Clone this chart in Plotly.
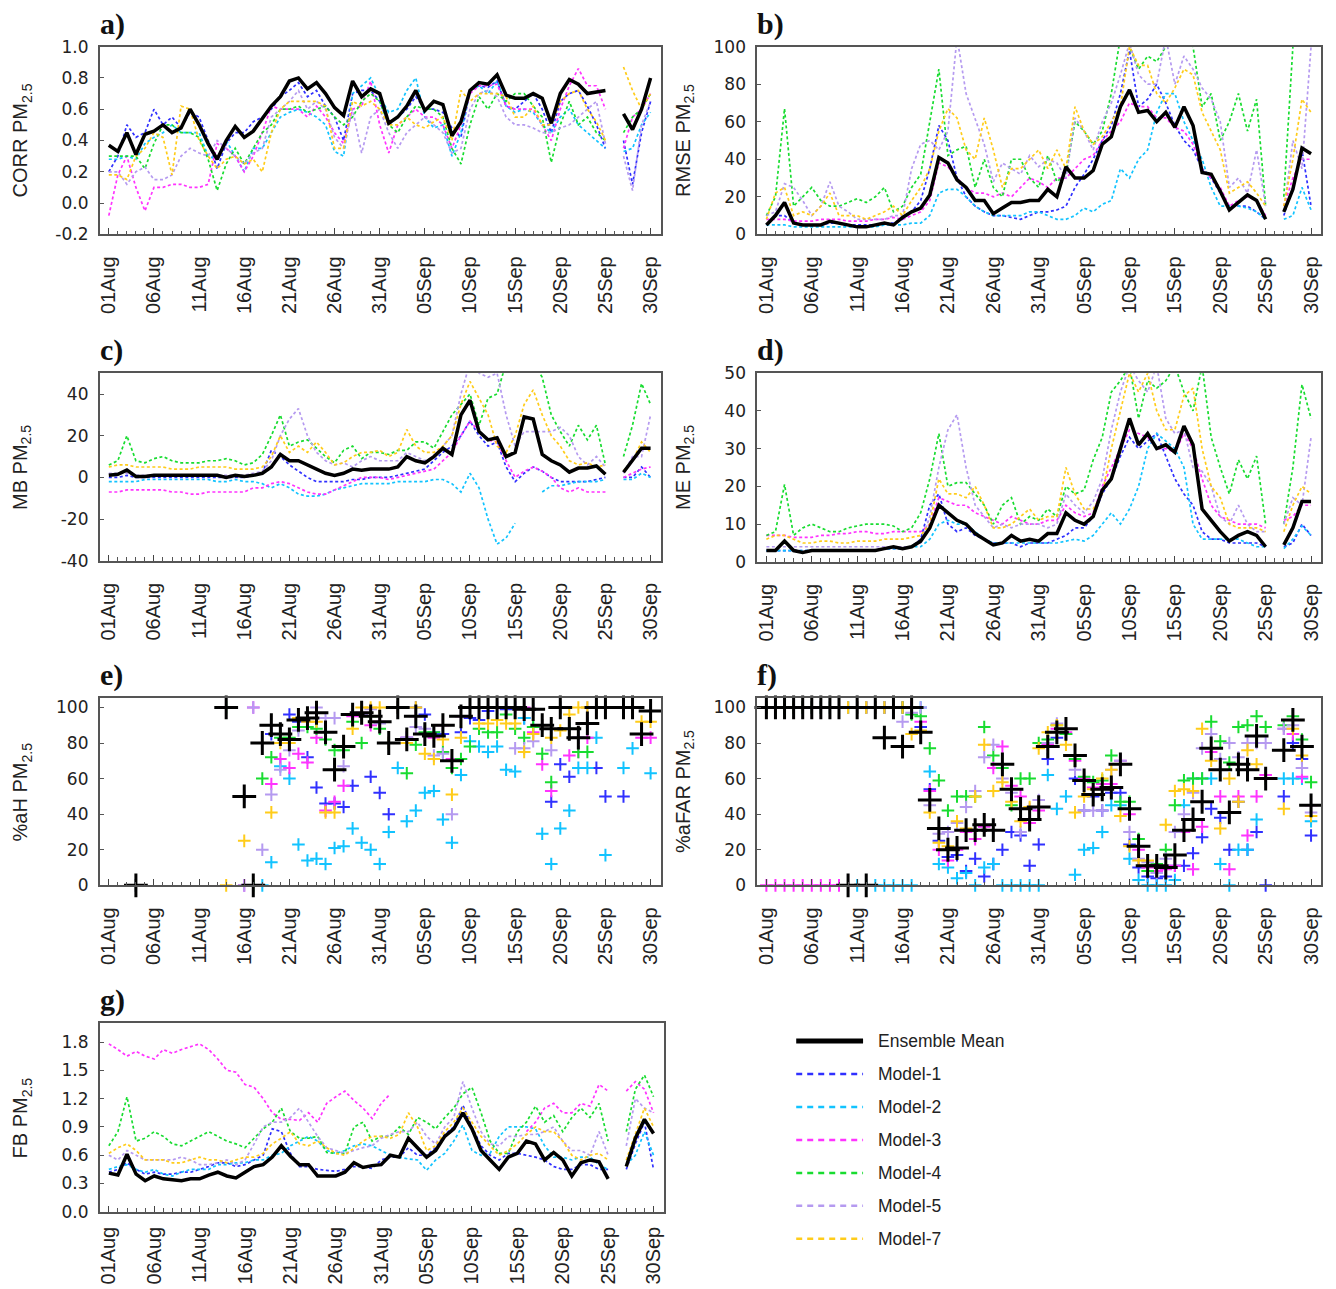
import plotly.graph_objects as go

N = None
W, H = 1336, 1289

DAYS = list(range(61))
TICK_VALS = list(range(0, 61, 5))
TICK_TEXT = ["01Aug", "06Aug", "11Aug", "16Aug", "21Aug", "26Aug", "31Aug",
             "05Sep", "10Sep", "15Sep", "20Sep", "25Sep", "30Sep"]
MODELS = ["Model-1", "Model-2", "Model-3", "Model-4", "Model-5", "Model-7"]
COLORS = ["#3030ff", "#12c3ff", "#ff33ff", "#18dc30", "#b59af0", "#ffcc1a"]

# ---------------- a) CORR ----------------
corr_ens = [0.37, 0.33, 0.45, 0.31, 0.44, 0.46, 0.50, 0.45, 0.48, 0.60,
            0.50, 0.38, 0.28, 0.40, 0.49, 0.42, 0.46, 0.54, 0.62, 0.68,
            0.78, 0.80, 0.73, 0.77, 0.70, 0.61, 0.56, 0.78, 0.68, 0.73,
            0.70, 0.51, 0.55, 0.62, 0.72, 0.59, 0.65, 0.63, 0.43, 0.52,
            0.72, 0.77, 0.76, 0.82, 0.69, 0.67, 0.67, 0.70, 0.67, 0.51,
            0.70, 0.79, 0.76, 0.70, 0.71, 0.72, N, 0.57, 0.47, 0.60,
            0.80]
corr_m1 = [0.20, 0.30, 0.50, 0.42, 0.45, 0.60, 0.50, 0.55, 0.48, 0.58,
           0.55, 0.40, 0.22, 0.38, 0.45, 0.45, 0.52, 0.55, 0.60, 0.68,
           0.72, 0.77, 0.68, 0.72, 0.62, 0.55, 0.40, 0.70, 0.72, 0.72,
           0.65, 0.50, 0.55, 0.60, 0.68, 0.60, 0.60, 0.58, 0.48, 0.42,
           0.72, 0.75, 0.74, 0.78, 0.62, 0.60, 0.65, 0.70, 0.60, 0.45,
           0.65, 0.70, 0.72, 0.62, 0.50, 0.35, N, 0.40, 0.12, 0.45,
           0.65]
corr_m2 = [0.28, 0.28, 0.30, 0.28, 0.38, 0.42, 0.45, 0.50, 0.45, 0.45,
           0.45, 0.30, 0.28, 0.40, 0.30, 0.20, 0.35, 0.35, 0.45, 0.55,
           0.58, 0.60, 0.58, 0.55, 0.50, 0.33, 0.30, 0.70, 0.75, 0.80,
           0.68, 0.58, 0.60, 0.72, 0.80, 0.55, 0.48, 0.50, 0.30, 0.45,
           0.72, 0.75, 0.70, 0.78, 0.62, 0.58, 0.60, 0.58, 0.50, 0.45,
           0.55, 0.60, 0.50, 0.45, 0.40, 0.35, N, 0.33, 0.35, 0.50,
           0.58]
corr_m3 = [-0.08, 0.18, 0.30, 0.10, -0.05, 0.10, 0.10, 0.12, 0.12, 0.10,
           0.10, 0.12, 0.38, 0.35, 0.30, 0.20, 0.30, 0.45, 0.62, 0.60,
           0.60, 0.60, 0.55, 0.62, 0.55, 0.45, 0.38, 0.60, 0.62, 0.78,
           0.50, 0.32, 0.50, 0.55, 0.60, 0.55, 0.55, 0.50, 0.35, 0.50,
           0.70, 0.75, 0.75, 0.76, 0.62, 0.60, 0.60, 0.60, 0.50, 0.40,
           0.60, 0.75, 0.86, 0.75, 0.75, 0.60, N, 0.35, 0.55, 0.60,
           0.70]
corr_m4 = [0.30, 0.30, 0.30, 0.30, 0.22, 0.38, 0.50, 0.50, 0.45, 0.45,
           0.42, 0.28, 0.08, 0.25, 0.35, 0.25, 0.35, 0.45, 0.50, 0.60,
           0.60, 0.62, 0.58, 0.60, 0.62, 0.55, 0.50, 0.55, 0.65, 0.70,
           0.65, 0.50, 0.45, 0.55, 0.62, 0.60, 0.60, 0.55, 0.35, 0.25,
           0.50, 0.68, 0.60, 0.70, 0.65, 0.70, 0.70, 0.62, 0.55, 0.26,
           0.50, 0.65, 0.50, 0.55, 0.45, 0.40, N, 0.45, 0.55, 0.60,
           0.70]
corr_m5 = [0.20, 0.20, 0.12, 0.20, 0.23, 0.15, 0.15, 0.18, 0.30, 0.35,
           0.32, 0.30, 0.40, 0.35, 0.30, 0.25, 0.32, 0.35, 0.55, 0.60,
           0.65, 0.72, 0.60, 0.65, 0.60, 0.42, 0.35, 0.60, 0.32, 0.55,
           0.60, 0.45, 0.35, 0.45, 0.50, 0.55, 0.50, 0.45, 0.32, 0.35,
           0.60, 0.70, 0.72, 0.68, 0.55, 0.50, 0.50, 0.48, 0.45, 0.45,
           0.48, 0.50, 0.55, 0.60, 0.65, 0.38, N, 0.30, 0.08, 0.50,
           0.65]
corr_m7 = [0.18, 0.18, 0.15, 0.30, 0.35, 0.45, 0.42, 0.18, 0.62, 0.60,
           0.40, 0.30, 0.22, 0.28, 0.30, 0.25, 0.28, 0.20, 0.45, 0.60,
           0.65, 0.65, 0.65, 0.65, 0.62, 0.35, 0.35, 0.65, 0.62, 0.65,
           0.60, 0.50, 0.50, 0.55, 0.50, 0.48, 0.52, 0.55, 0.40, 0.72,
           0.65, 0.70, 0.70, 0.70, 0.68, 0.55, 0.55, 0.62, 0.50, 0.50,
           0.65, 0.70, 0.72, 0.60, 0.52, 0.40, N, 0.87, 0.72, 0.60,
           0.70]

# ---------------- b) RMSE ----------------
rmse_ens = [5, 10, 17, 6, 5, 5, 5, 7, 6, 5,
            4, 4, 5, 6, 5, 9, 12, 14, 21, 41,
            38, 29, 25, 18, 18, 11, 14, 17, 17, 18,
            18, 24, 20, 36, 30, 30, 34, 48, 52, 68,
            77, 65, 66, 60, 65, 57, 68, 58, 33, 32,
            23, 13, 17, 21, 18, 8, N, 12, 24, 46,
            43]
rmse_m1 = [5, 10, 10, 6, 5, 5, 5, 6, 6, 5,
           5, 5, 5, 6, 6, 8, 12, 18, 35, 58,
           50, 30, 20, 15, 12, 10, 10, 9, 8, 10,
           12, 12, 13, 15, 25, 32, 40, 50, 58, 75,
           98, 68, 72, 80, 70, 58, 50, 45, 35, 30,
           22, 15, 15, 15, 12, 8, N, 10, 25, 45,
           15]
rmse_m2 = [5, 5, 5, 4, 4, 4, 4, 4, 4, 4,
           4, 4, 4, 5, 5, 5, 6, 6, 10, 22,
           24, 24, 20, 15, 12, 10, 10, 10, 10, 12,
           12, 10, 8, 8, 10, 14, 12, 16, 18, 35,
           30, 40, 45, 65, 75, 75, 60, 50, 40, 25,
           15, 15, 15, 14, 12, 8, N, 8, 10, 25,
           13]
rmse_m3 = [8, 8, 8, 7, 7, 7, 8, 8, 8, 7,
           7, 7, 8, 8, 9, 8, 10, 12, 18, 38,
           36, 30, 25, 22, 22, 20, 22, 20, 25, 30,
           28, 25, 30, 30, 35, 40, 42, 50, 55, 60,
           70, 68, 68, 62, 62, 57, 55, 48, 35, 30,
           25, 15, 18, 20, 18, 10, N, 15, 30, 40,
           40]
rmse_m4 = [10, 20, 67, 15, 20, 25, 18, 15, 15, 17,
           19, 17, 20, 25, 12, 15, 25, 32, 60, 88,
           42, 45, 47, 25, 40, 25, 20, 40, 40, 30,
           25, 42, 28, 32, 60, 55, 48, 55, 75, 105,
           100, 88, 95, 92, 100, 105, 110, 100, 68, 75,
           50, 60, 75, 55, 72, 15, N, 20, 100, 105,
           105]
rmse_m5 = [10, 12, 27, 25, 18, 10, 15, 28, 15, 12,
           8, 8, 8, 8, 10, 10, 35, 48, 50, 45,
           55, 105, 75, 62, 48, 28, 38, 35, 32, 42,
           36, 40, 38, 30, 62, 55, 45, 60, 70, 85,
           102, 85, 80, 80, 105, 80, 95, 88, 78, 72,
           60, 25, 30, 22, 45, 15, N, 12, 50, 35,
           100]
rmse_m7 = [8, 22, 25, 10, 12, 10, 15, 22, 10, 10,
           10, 8, 10, 12, 15, 10, 18, 25, 35, 55,
           67, 62, 45, 40, 62, 45, 25, 35, 35, 40,
           45, 35, 45, 35, 68, 55, 48, 52, 60, 68,
           100, 90, 90, 75, 70, 78, 88, 85, 65, 55,
           45, 22, 25, 28, 22, 15, N, 15, 40, 72,
           65]

# ---------------- c) MB ----------------
mb_ens = [1, 1.5, 3.5, 0.5, 0.5, 1, 1, 1, 1, 1,
          1, 1, 1, 0, 1, 0.5, 1, 2, 5, 11,
          8, 8, 6, 4, 2, 1, 2, 4, 3.5, 4,
          4, 4, 5, 10, 8, 7, 10, 14, 11, 30,
          37, 22, 18, 19, 10, 12, 29, 28, 11, 8,
          6, 2.5, 4.5, 4.5, 5.5, 1.5, N, 2.5, 8, 14,
          14]
mb_m1 = [0, 0, 1, 0, 0, 0, 0, 0, 0, 0,
         0, 0, 0, 0, 0, 0, 1, 2, 13, 10,
         6, 3, 0, -2, -2, -2, -2, -1, -1, 0,
         0, 0, 1, 2, 3, 4, 8, 12, 15, 20,
         27, 20, 15, 17, 5, -2, 2, 5, 3, 0,
         -2, -2, -2, -2, -1, 0, N, 0, 0, 5,
         0]
mb_m2 = [-2, -2, -2, -2, -1, -1, -1, -1, -1, -1,
         -1, -1, -2, -2, -1, -2, -2, -3, -5, -3,
         -5, -8, -9, -9, -8, -6, -5, -4, -3, -3,
         -3, -3, -2, -2, -2, -2, -1, -1, -3, -7,
         2, -5, -20, -32, -29, -22, N, N, -7, -4,
         -4, -3, -2, -2, -2, -1, N, -1, -1, 2,
         0]
mb_m3 = [-7, -7, -6, -6, -6, -6, -6, -7, -7, -8,
         -8, -7, -7, -7, -7, -7, -5, -5, -3, -2,
         -3, -5, -7, -8, -8, -6, -4, -2, 0, 0,
         0, -1, 0, 1, 2, 3, 4, 8, 12, 20,
         27, 22, 18, 17, 8, 0, 3, 5, 3, 0,
         -5, -7, -5, -7, -7, -7, N, 0, 2, 4,
         5]
mb_m4 = [6, 8, 20, 8, 7, 9, 10, 8, 7, 7,
         7, 8, 8, 9, 8, 6, 7, 11, 20, 30,
         15, 17, 18, 14, 10, 7, 13, 15, 9, 12,
         12, 11, 13, 13, 17, 17, 14, 22, 30, 35,
         40, 25, 38, 40, 55, 55, 55, 55, 48, 30,
         22, 15, 25, 18, 25, 6, N, 10, 25, 45,
         35]
mb_m5 = [2, 2, 2, 1, 1, 1, 1, 1, 1, 1,
         1, 1, 1, 1, 1, 1, 2, 3, 8, 20,
         28, 33, 20, 12, 8, 6, 7, 5, 8, 10,
         8, 8, 8, 12, 10, 8, 10, 15, 20, 40,
         55, 50, 48, 50, 30, 15, 22, 22, 22, 22,
         24, 20, 10, 6, 10, 5, N, 2, 10, 10,
         30]
mb_m7 = [5, 6, 6, 5, 5, 5, 5, 4, 4, 4,
         5, 5, 5, 5, 4, 4, 4, 5, 10, 20,
         12, 15, 12, 17, 12, 6, 7, 10, 12, 12,
         13, 10, 12, 23, 15, 12, 12, 15, 20, 35,
         46, 38, 30, 15, 12, 20, 35, 42, 30, 20,
         15, 8, 6, 7, 5, 6, N, 3, 8, 17,
         12]

# ---------------- d) ME ----------------
me_ens = [3, 3, 5.5, 3, 2.5, 3, 3, 3, 3, 3,
          3, 3, 3, 3.5, 4, 3.5, 4, 5.5, 9, 15,
          13, 11, 10, 7.5, 6, 4.5, 5, 7, 5.5, 6,
          5.5, 7.5, 7.5, 13, 11, 10, 12, 19, 22, 30,
          38, 31, 34, 30, 31, 29, 36, 31, 14, 11,
          8, 5.5, 7, 8, 7, 4, N, 4.5, 9, 16,
          16]
me_m1 = [3, 3, 3, 3, 3, 3, 3, 3, 3, 3,
         3, 3, 3, 3.5, 3.5, 3.5, 4, 6, 15, 18,
         10, 8, 9, 7, 6, 5, 5, 5, 4, 5,
         5, 5, 6, 7, 9, 9, 12, 18, 22, 28,
         33, 30, 32, 34, 28, 22, 18, 15, 8, 6,
         6, 5, 5, 5, 5, 4, N, 4, 5, 10,
         7]
me_m2 = [3, 3, 3, 3, 3, 3, 3, 3, 3, 3,
         3, 3, 3, 3.5, 3.5, 3.5, 4, 4, 6, 10,
         11, 10, 10, 8, 6, 5, 5, 5, 5, 5,
         5, 5, 5, 5.5, 6, 5.5, 7, 10, 13, 10,
         14, 20, 30, 34, 32, 30, 25, 10, 6, 6,
         6, 6, 6, 5, 4, 4, N, 3.5, 6, 9.5,
         7]
me_m3 = [7, 7, 7, 6.5, 6.5, 6.5, 7, 7, 7.5, 7.5,
         8, 8, 7.5, 7.5, 8, 8, 8, 8, 10, 17,
         16, 15, 15, 13, 12, 11, 10, 12, 11, 10,
         10, 11, 11, 15, 13, 12, 13, 20, 25, 30,
         35, 34, 33, 30, 30, 29, 34, 30, 22, 15,
         12, 11, 10, 10, 10, 9, N, 11, 12, 15,
         15]
me_m4 = [7, 8, 20.5, 7, 9, 10, 9, 8, 8, 9,
         9.5, 10, 10, 10, 9.5, 8, 9, 13, 22, 34,
         20, 21, 21, 18, 15, 10, 15, 17, 10, 12,
         11, 14, 12, 20, 18, 19, 27, 33, 45, 48,
         52, 38, 48, 46, 48, 52, 45, 40, 52, 33,
         25, 18, 27, 22, 28, 10, N, 10, 25, 47,
         38]
me_m5 = [4, 4, 4, 4, 4, 4, 4, 4, 4, 4,
         4, 4, 4, 4, 4, 4, 4, 5, 12, 25,
         35, 39, 25, 15, 12, 9, 10, 9, 10, 10,
         10, 9, 10, 18, 15, 13, 16, 22, 35, 45,
         52, 48, 45, 52, 38, 34, 35, 25, 24, 20,
         12, 10, 15, 10, 8, 8, N, 10, 17, 15,
         33]
me_m7 = [6, 7, 7, 6, 5, 5, 5.5, 5.5, 5, 5,
         5.5, 5.5, 5.5, 6, 6, 6, 6.5, 7, 10, 22,
         18, 18, 17, 20, 15, 9, 9, 10, 12, 14,
         11, 12, 12, 25, 18, 14, 14, 18, 30, 40,
         50, 45, 50, 40, 35, 35, 44, 46, 30, 20,
         17, 10, 9, 9, 9, 8, N, 8, 15, 20,
         18]

# ---------------- e) %aH ----------------
ah_ens = [N, N, N, 0, N, N, N, N, N, N,
          N, N, N, 100, N, 50, 0, 80, 90, 85,
          82, 93, 94, 97, 86, 65, 78, 96, 97, 95,
          92, 80, 100, 82, 95, 85, 84, 90, 70, 95,
          100, 100, 100, 100, 100, 100, 99, 99, 90, 88,
          100, 88, 83, 91, 100, 100, N, 100, 100, 85,
          98]
ah_m1 = [N, N, N, 0, N, N, N, N, N, N,
         N, N, N, N, N, 50, N, N, 85, 85,
         96, 92, 72, 55, 46, 46, 44, 56, 96, 61,
         52, 40, 100, 83, 100, 96, 86, 85, 70, 86,
         94, 93, 98, 100, 99, 100, 94, 99, 90, 47,
         68, 61, 83, 91, 66, 50, N, 50, 100, 85,
         98]
ah_m2 = [N, N, N, 0, N, N, N, N, N, N,
         N, N, N, N, N, N, N, 0, 13, 67,
         60, 23, 14, 15, 12, 21, 22, 32, 24, 20,
         12, 30, 66, 36, 42, 52, 53, 37, 24, 62,
         81, 78, 75, 78, 65, 64, 94, 89, 29, 12,
         32, 42, 66, 66, 83, 17, N, 66, 77, 85,
         63]
ah_m3 = [N, N, N, 0, N, N, N, N, N, N,
         N, N, N, N, N, 0, 100, N, 57, 71,
         66, 74, 69, 83, 42, 47, 56, 95, 97, 90,
         92, 80, 100, 83, 95, 85, 83, 90, 71, 95,
         100, 100, 100, 100, 100, 100, 100, 86, 68, 53,
         100, 73, 75, 83, 100, 100, N, 100, 100, 83,
         83]
ah_m4 = [N, N, N, 0, N, N, N, N, N, N,
         N, N, N, 100, N, N, 0, 60, 72, 83,
         83, 89, 89, 88, 82, 76, 76, 92, 80, 95,
         88, 80, 100, 63, 79, 86, 86, 75, 66, 71,
         78, 88, 86, 86, 96, 88, 83, 89, 74, 58,
         100, 88, 75, 75, 100, 100, N, 100, 100, 85,
         98]
ah_m5 = [N, N, N, 0, N, N, N, N, N, N,
         N, N, N, N, N, 0, 100, 20, 51, 65,
         76, 87, 92, 100, 94, 94, 67, 96, 96, 99,
         91, 80, 100, 83, 89, 88, 73, 74, 40, 95,
         100, 100, 100, 100, 100, 77, 77, 81, 90, 76,
         100, 88, 83, 100, 100, 100, N, 100, 100, 85,
         98]
ah_m7 = [N, N, N, 0, N, N, N, N, N, N,
         N, N, N, 0, N, 25, N, N, 41, 80,
         80, 94, 92, 92, 41, 41, 78, 88, 100, 100,
         100, 80, 100, 80, 100, 74, 71, 82, 51, 83,
         100, 91, 91, 93, 91, 91, 75, 85, 90, 83,
         87, 96, 100, 100, 100, 100, N, 100, 100, 92,
         92]

# ---------------- f) %aFAR ----------------
far_ens = [100, 100, 100, 100, 100, 100, 100, 100, 100, 0,
           100, 0, 100, 83, 100, 78, 100, 86, 48, 32,
           20, 21, 31, 31, 34, 31, 68, 54, 43, 37,
           44, 78, 86, 88, 73, 59, 51, 54, 55, 68,
           43, 22, 11, 11, 10, 17, 31, 37, 47, 77,
           65, 41, 68, 65, 84, 60, N, 76, 93, 78,
           45]
far_m1 = [100, 100, 100, 100, 100, 100, 100, 100, 100, 100,
          100, 100, 100, 100, 100, 100, 100, 89, 54, 25,
          16, 17, 8, 15, 5, 12, 20, 30, 28, 11,
          23, 71, 83, 85, 60, 42, 50, 42, 52, 52,
          23, 10, 5, 4, 5, 11, 11, 18, 27, 43,
          38, 20, 47, 20, 30, 0, N, 50, 80, 71,
          28]
far_m2 = [100, 100, 100, 100, 100, 100, 100, 100, 100, 100,
          0, 0, 0, 0, 0, 0, 0, 100, 64, 12,
          10, 4, 7, 0, 10, 12, 0, 0, 0, 0,
          0, 62, 43, 50, 6, 20, 21, 30, 45, 45,
          15, 3, 0, 0, 0, 3, 45, 60, 60, 60,
          12, 0, 20, 20, 37, 60, N, 60, 60, 60,
          36]
far_m3 = [0, 0, 0, 0, 0, 0, 0, 0, 0, 0,
          100, 100, 100, 100, 100, 100, 100, 92, 53, 20,
          14, 20, 30, 26, 33, 66, 78, 56, 50, 35,
          42, 79, 88, 86, 70, 60, 55, 57, 57, 70,
          40, 20, 10, 8, 9, 11, 30, 9, 33, 75,
          50, 9, 50, 28, 50, 62, N, 88, 85, 61,
          45]
far_m4 = [100, 100, 100, 100, 100, 100, 100, 100, 100, 100,
          100, 100, 100, 100, 100, 100, 96, 95, 77, 59,
          42, 50, 50, 50, 89, 73, 66, 45, 60, 60,
          80, 82, 90, 85, 71, 61, 58, 59, 73, 47,
          47, 26, 8, 12, 20, 45, 59, 60, 60, 92,
          81, 69, 89, 90, 95, 89, N, 90, 95, 82,
          58]
far_m5 = [100, 100, 100, 100, 100, 100, 100, 100, 100, 100,
          100, 100, 100, 100, 100, 92, 97, 100, 45, 29,
          30, 35, 44, 53, 72, 79, 60, 52, 30, 43,
          48, 80, 91, 88, 65, 42, 42, 42, 65, 70,
          30, 15, 13, 7, 15, 30, 40, 52, 77, 85,
          71, 80, 72, 80, 80, 80, N, 88, 90, 66,
          41]
far_m7 = [100, 100, 100, 100, 100, 100, 100, 100, 100, 100,
          100, 100, 100, 100, 100, 100, 85, 87, 41, 24,
          22, 36, 32, 50, 79, 53, 58, 47, 36, 44,
          77, 86, 90, 79, 41, 50, 54, 60, 65, 39,
          22, 14, 14, 11, 34, 53, 54, 53, 88, 70,
          32, 60, 47, 76, 68, 60, N, 43, 88, 73,
          39]

# ---------------- g) FB ----------------
fb_ens = [0.41, 0.39, 0.61, 0.40, 0.33, 0.38, 0.35, 0.34, 0.33, 0.35,
          0.35, 0.39, 0.42, 0.38, 0.36, 0.42, 0.48, 0.50, 0.58, 0.70,
          0.59, 0.50, 0.50, 0.38, 0.38, 0.38, 0.42, 0.52, 0.47, 0.49,
          0.50, 0.60, 0.58, 0.78, 0.68, 0.58, 0.65, 0.80, 0.88, 1.05,
          0.88, 0.65, 0.55, 0.45, 0.58, 0.62, 0.75, 0.72, 0.55, 0.63,
          0.55, 0.38, 0.52, 0.55, 0.53, 0.35, N, 0.48, 0.78, 0.98,
          0.83]
fb_m1 = [0.42, 0.45, 0.52, 0.45, 0.40, 0.42, 0.40, 0.40, 0.42, 0.42,
         0.45, 0.48, 0.52, 0.52, 0.48, 0.50, 0.55, 0.60, 0.88, 0.85,
         0.62, 0.48, 0.48, 0.45, 0.44, 0.43, 0.45, 0.48, 0.48, 0.46,
         0.55, 0.58, 0.58, 0.68, 0.60, 0.60, 0.68, 0.82, 0.90, 1.13,
         0.90, 0.70, 0.60, 0.55, 0.62, 0.62, 0.60, 0.58, 0.55, 0.48,
         0.45, 0.45, 0.50, 0.50, 0.45, 0.45, N, 0.45, 0.72, 0.95,
         0.45]
fb_m2 = [0.45, 0.48, 0.50, 0.45, 0.42, 0.45, 0.40, 0.38, 0.42, 0.45,
         0.45, 0.45, 0.50, 0.50, 0.52, 0.52, 0.55, 0.55, 0.60, 0.62,
         0.70, 0.75, 0.80, 0.75, 0.65, 0.62, 0.65, 0.70, 0.72, 0.70,
         0.65, 0.60, 0.58, 0.56, 0.55, 0.44, 0.55, 0.62, 0.75, 0.92,
         0.65, 0.60, 0.62, 0.80, 0.90, 0.90, 0.90, 0.88, 0.70, 0.58,
         0.58, 0.55, 0.58, 0.58, 0.50, 0.45, N, 0.50, 0.60, 0.85,
         0.60]
fb_m3 = [1.78, 1.72, 1.65, 1.70, 1.65, 1.62, 1.72, 1.68, 1.72, 1.75,
         1.78, 1.72, 1.62, 1.50, 1.48, 1.35, 1.32, 1.20, 1.05, 0.98,
         0.98, 0.97, 1.05, 0.95, 1.15, 1.22, 1.28, 1.18, 1.10, 0.99,
         1.15, 1.25, N, N, N, N, N, N, N, N,
         N, N, N, N, N, N, 0.85, 0.95, 1.10, 1.15,
         1.05, 1.05, 1.15, 1.12, 1.35, 1.28, N, 1.28, 1.38, 1.30,
         1.05]
fb_m4 = [0.70, 0.85, 1.22, 0.75, 0.78, 0.85, 0.80, 0.72, 0.70, 0.75,
         0.80, 0.85, 0.80, 0.75, 0.72, 0.68, 0.78, 0.88, 0.95, 1.10,
         0.85, 0.78, 0.78, 0.80, 0.63, 0.62, 0.62, 0.90, 0.95, 0.75,
         0.80, 0.80, 0.90, 0.82, 1.00, 0.95, 0.88, 1.00, 1.10, 1.25,
         1.32, 1.05, 0.75, 0.62, 0.62, 0.85, 0.95, 1.12, 0.95, 1.02,
         0.85, 1.00, 1.10, 1.00, 1.15, 0.75, N, 0.85, 1.30, 1.45,
         1.22]
fb_m5 = [0.60, 0.55, 0.65, 0.60, 0.55, 0.55, 0.55, 0.55, 0.58, 0.55,
         0.50, 0.50, 0.52, 0.55, 0.50, 0.55, 0.72, 0.90, 0.95, 0.95,
         1.00, 1.10, 0.95, 0.80, 0.68, 0.65, 0.62, 0.65, 0.68, 0.70,
         0.78, 0.82, 0.85, 0.85, 0.95, 0.80, 0.72, 0.90, 1.00, 1.38,
         1.10, 0.85, 0.72, 0.70, 0.80, 0.80, 0.82, 0.82, 0.85, 0.90,
         0.75, 0.65, 0.65, 0.60, 0.85, 0.60, N, 0.70, 1.20, 1.10,
         1.05]
fb_m7 = [0.62, 0.68, 0.72, 0.65, 0.55, 0.55, 0.55, 0.52, 0.52, 0.55,
         0.58, 0.55, 0.55, 0.52, 0.55, 0.58, 0.58, 0.62, 0.72, 0.78,
         0.85, 0.72, 0.70, 0.75, 0.68, 0.62, 0.60, 0.68, 0.75, 0.80,
         0.80, 0.78, 0.82, 1.05, 0.90, 0.65, 0.70, 0.85, 0.95, 1.10,
         0.95, 0.80, 0.70, 0.60, 0.65, 0.72, 0.82, 0.90, 0.85, 0.85,
         0.75, 0.60, 0.55, 0.60, 0.62, 0.55, N, 0.55, 0.82, 1.10,
         0.90]

# panel definitions: letter, y title, ensemble, models, y range, y ticks, fmt, kind, box px (x0, x1, y0, y1)
PANELS = [
    ("a)", "CORR PM<sub>2.5</sub>", corr_ens, [corr_m1, corr_m2, corr_m3, corr_m4, corr_m5, corr_m7],
     [-0.2, 1.0], [-0.2, 0.0, 0.2, 0.4, 0.6, 0.8, 1.0], ".1f", "line", (98, 660, 45, 233)),
    ("b)", "RMSE PM<sub>2.5</sub>", rmse_ens, [rmse_m1, rmse_m2, rmse_m3, rmse_m4, rmse_m5, rmse_m7],
     [0, 100], [0, 20, 40, 60, 80, 100], "d", "line", (757, 1322, 45, 233)),
    ("c)", "MB PM<sub>2.5</sub>", mb_ens, [mb_m1, mb_m2, mb_m3, mb_m4, mb_m5, mb_m7],
     [-40, 50], [-40, -20, 0, 20, 40], "d", "line", (98, 660, 372, 560)),
    ("d)", "ME PM<sub>2.5</sub>", me_ens, [me_m1, me_m2, me_m3, me_m4, me_m5, me_m7],
     [0, 50], [0, 10, 20, 30, 40, 50], "d", "line", (757, 1322, 372, 561)),
    ("e)", "%aH PM<sub>2.5</sub>", ah_ens, [ah_m1, ah_m2, ah_m3, ah_m4, ah_m5, ah_m7],
     [0, 105.5], [0, 20, 40, 60, 80, 100], "d", "cross", (98, 660, 697, 885)),
    ("f)", "%aFAR PM<sub>2.5</sub>", far_ens, [far_m1, far_m2, far_m3, far_m4, far_m5, far_m7],
     [0, 105.5], [0, 20, 40, 60, 80, 100], "d", "cross", (757, 1322, 697, 885)),
    ("g)", "FB PM<sub>2.5</sub>", fb_ens, [fb_m1, fb_m2, fb_m3, fb_m4, fb_m5, fb_m7],
     [0, 2.0], [0.0, 0.3, 0.6, 0.9, 1.2, 1.5, 1.8], ".1f", "line", (98, 663, 1023, 1212)),
]

FONT = "Liberation Sans, Arial, sans-serif"
TICKFONT_Y = "DejaVu Sans, Liberation Sans, sans-serif"
TXT = "#222222"

# the page is photographed slightly compressed vertically; map target pixel rows
V_OFF, V_SCALE = 8.3, 0.986


def px_x(p):
    return p / W


def px_y(p):
    return 1 - ((p - V_OFF) / V_SCALE) / H


fig = go.Figure()
layout_axes = {}
annotations = []

for i, (letter, ytitle, ens, models, yr, yt, yfmt, kind, box) in enumerate(PANELS):
    assert len(ens) == 61, letter
    for m in models:
        assert len(m) == 61, letter
    n = i + 1
    xa = "x" if n == 1 else f"x{n}"
    ya = "y" if n == 1 else f"y{n}"
    x0, x1, y0, y1 = box
    for name, col, vals in zip(MODELS, COLORS, models):
        if kind == "line":
            fig.add_trace(go.Scatter(x=DAYS, y=vals, mode="lines", name=name,
                                     line=dict(color=col, width=1.7, dash="3px,2.5px"),
                                     connectgaps=False, showlegend=False, xaxis=xa, yaxis=ya))
        else:
            fig.add_trace(go.Scatter(x=DAYS, y=vals, mode="markers", name=name,
                                     marker=dict(symbol="cross-thin", size=9,
                                                 line=dict(color=col, width=2)),
                                     cliponaxis=False, showlegend=False, xaxis=xa, yaxis=ya))
    if kind == "line":
        fig.add_trace(go.Scatter(x=DAYS, y=ens, mode="lines", name="Ensemble Mean",
                                 line=dict(color="black", width=3.5),
                                 connectgaps=False, showlegend=False, xaxis=xa, yaxis=ya))
    else:
        fig.add_trace(go.Scatter(x=DAYS, y=ens, mode="markers", name="Ensemble Mean",
                                 marker=dict(symbol="cross-thin", size=17,
                                             line=dict(color="black", width=3)),
                                 cliponaxis=False, showlegend=False, xaxis=xa, yaxis=ya))

    xkey = "xaxis" if n == 1 else f"xaxis{n}"
    ykey = "yaxis" if n == 1 else f"yaxis{n}"
    if yfmt == ".1f":
        ytxt = [f"{v:.1f}" for v in yt]
    else:
        ytxt = [f"{v:d}" for v in yt]
    layout_axes[xkey] = dict(
        domain=[px_x(x0), px_x(x1)], anchor=ya, range=[-1.0, 61.1],
        tickmode="array", tickvals=TICK_VALS, ticktext=TICK_TEXT, tickangle=-90,
        tickfont=dict(family=FONT, size=20, color=TXT),
        ticks="inside", ticklen=6, tickwidth=1.3, tickcolor="#444",
        ticklabelstandoff=(5 if letter == "g)" else 12),
        minor=dict(tickmode="linear", tick0=0, dtick=1, ticks="inside", ticklen=3.5,
                   tickcolor="#555", tickwidth=1),
        showgrid=False, zeroline=False, showline=True, mirror=True,
        linecolor="#555", linewidth=1.8)
    layout_axes[ykey] = dict(
        domain=[px_y(y1), px_y(y0)], anchor=xa, range=yr,
        tickmode="array", tickvals=yt, ticktext=ytxt,
        tickfont=dict(family=TICKFONT_Y, size=17, color=TXT),
        ticks="inside", ticklen=4, tickwidth=1.2, tickcolor="#555",
        ticklabelstandoff=6,
        showgrid=False, zeroline=False, showline=True, mirror=True,
        linecolor="#555", linewidth=1.8)

    # panel letter
    annotations.append(dict(text=f"<b>{letter}</b>", x=px_x(x0 - 2), y=px_y(y0 - 23),
                            xref="paper", yref="paper", xanchor="left", yanchor="middle",
                            showarrow=False,
                            font=dict(family="Liberation Serif, Times New Roman, serif",
                                      size=30, color="#111")))
    # y title
    tx = 20 if x0 < 300 else 684
    annotations.append(dict(text=ytitle, x=px_x(tx), y=px_y((y0 + y1) / 2),
                            xref="paper", yref="paper", xanchor="center", yanchor="middle",
                            textangle=-90, showarrow=False,
                            font=dict(family=FONT, size=20, color=TXT)))

# manual legend
LEG_NAMES = ["Ensemble Mean"] + MODELS
LEG_COLORS = ["black"] + COLORS
shapes = []
for k, (nm, col) in enumerate(zip(LEG_NAMES, LEG_COLORS)):
    yy = 1041 + k * 33
    if k == 0:
        ln = dict(color=col, width=5)
    else:
        ln = dict(color=col, width=2.5, dash="6px,5px")
    shapes.append(dict(type="line", xref="paper", yref="paper",
                       x0=px_x(796), x1=px_x(863), y0=px_y(yy), y1=px_y(yy), line=ln))
    annotations.append(dict(text=nm, x=px_x(876), y=px_y(yy), xref="paper", yref="paper",
                            xanchor="left", yanchor="middle", showarrow=False,
                            font=dict(family=FONT, size=17.5, color=TXT)))

fig.update_layout(
    width=W, height=H, margin=dict(l=0, r=0, t=0, b=0),
    paper_bgcolor="white", plot_bgcolor="white",
    showlegend=False, annotations=annotations, shapes=shapes,
    font=dict(family=FONT, color=TXT),
    **layout_axes,
)

fig.write_html("out.html")
